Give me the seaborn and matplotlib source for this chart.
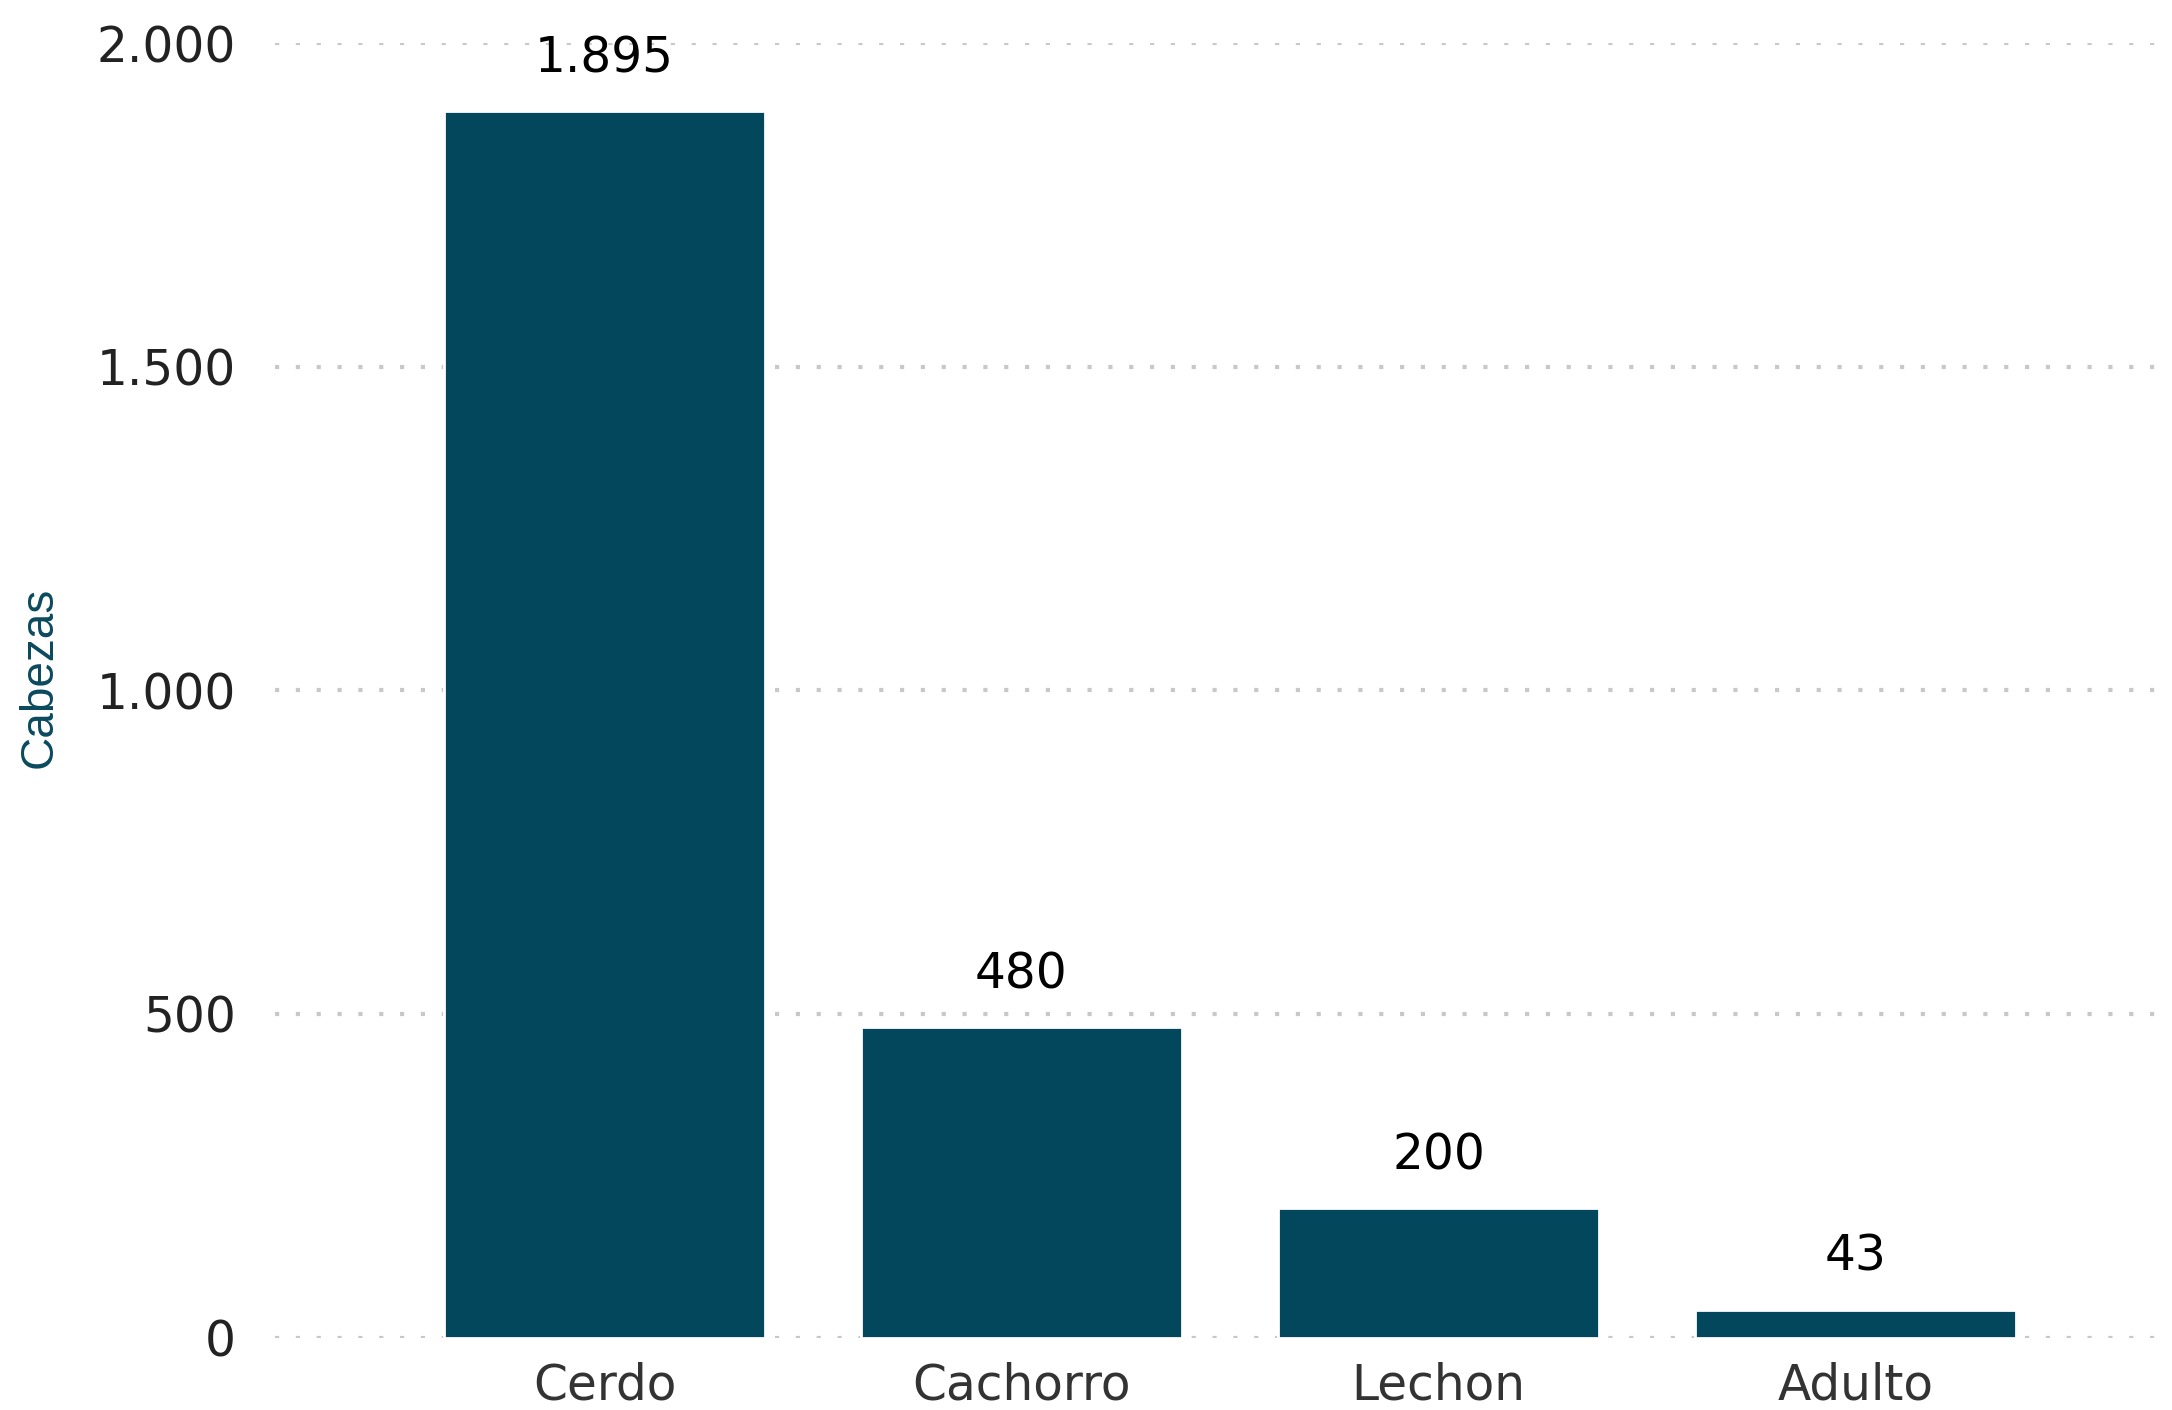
import numpy as np
import pandas as pd
import matplotlib
matplotlib.use("Agg")
import matplotlib.pyplot as plt
import seaborn as sns

# data
categorias = ["Cerdo", "Cachorro", "Lechon", "Adulto"]
cabezas = [1895, 480, 200, 43]
y_ticks = [0, 500, 1000, 1500, 2000]
y_tick_labels = ["0", "500", "1.000", "1.500", "2.000"]

bar_color = "#02475b"

sns.set_style("white")
plt.rcParams['font.family'] = ['DejaVu Sans']

df = pd.DataFrame({"categoria": categorias, "cabezas": cabezas})

fig = plt.figure(figsize=(10.86, 7.05), dpi=200)
ax = fig.add_axes([0.1266, 0.0514, 0.8679, 0.9181])

sns.barplot(data=df, x="categoria", y="cabezas", color=bar_color,
            saturation=1, width=0.77, ax=ax, zorder=3)

# dotted horizontal grid behind the bars
ax.yaxis.grid(True, linestyle=(0, (1, 4)), linewidth=1.5, color="#c8c8c8", zorder=0)
ax.xaxis.grid(False)
ax.set_axisbelow(True)

ax.set_ylim(0, 2000)
ax.set_xlim(-0.79, 3.73)
ax.set_yticks(y_ticks)
ax.set_yticklabels(y_tick_labels)

for s in ax.spines.values():
    s.set_visible(False)

ax.tick_params(axis="y", length=0, pad=14, labelsize=17.5, labelcolor="#222222")
ax.tick_params(axis="x", length=0, pad=8.5, labelsize=17.5, labelcolor="#333333")

ax.set_xlabel("")
ax.set_ylabel("Cabezas", fontsize=16.5, color="#0b4a5e", family="Liberation Sans")
ax.yaxis.set_label_coords(-0.113, 0.51)

# value labels above bars
def fmt(v):
    return "{:,}".format(v).replace(",", ".")

for i, v in enumerate(cabezas):
    ax.annotate(fmt(v), xy=(i, v), xytext=(0, 19), textcoords="offset points",
                ha="center", va="center", fontsize=17.5, color="black")

fig.savefig("out.png", dpi=200)
